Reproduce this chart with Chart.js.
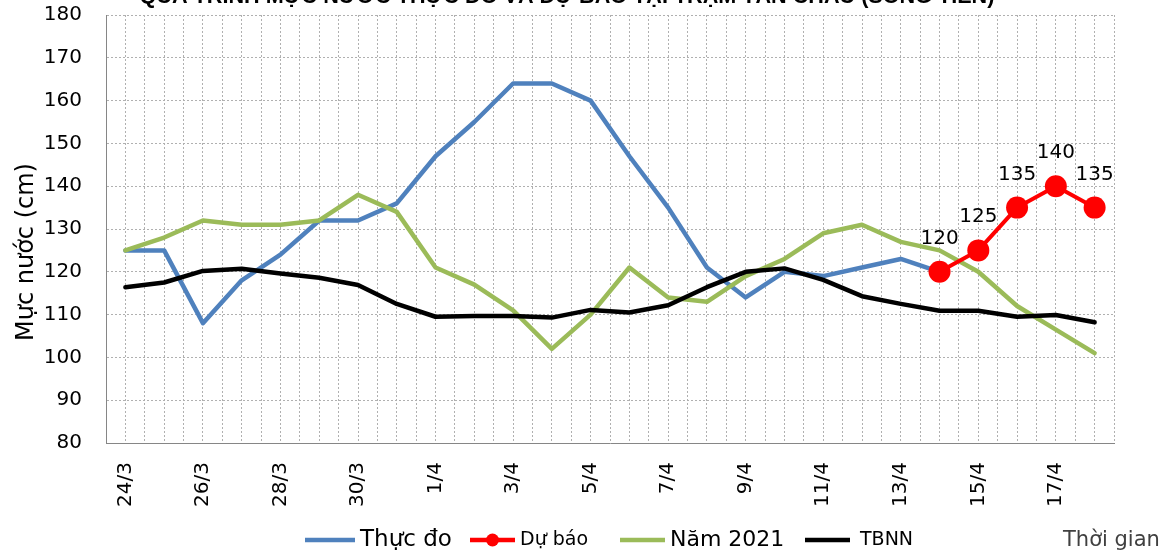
<!DOCTYPE html>
<html>
<head>
<meta charset="utf-8">
<script src="https://cdn.jsdelivr.net/npm/chart.js@4"></script>
<style>
  html, body { margin: 0; padding: 0; background: #ffffff; }
  #wrap { width: 1174px; height: 559px; position: relative; }
</style>
</head>
<body>
<div id="wrap"><canvas id="c"></canvas></div>
<script>
const chartTitle = 'QUÁ TRÌNH MỰC NƯỚC THỰC ĐO VÀ DỰ BÁO TẠI TRẠM TÂN CHÂU (SÔNG TIỀN)';
const yTitle = 'Mực nước (cm)';
const xTitle = 'Thời gian';
const categories = ['24/3','25/3','26/3','27/3','28/3','29/3','30/3','31/3',
  '1/4','2/4','3/4','4/4','5/4','6/4','7/4','8/4','9/4','10/4','11/4','12/4',
  '13/4','14/4','15/4','16/4','17/4','18/4'];
const seriesNames = ['Thực đo', 'Dự báo', 'Năm 2021', 'TBNN'];
const thucDo = [125,125,108,118,124,132,132,136,147,155,164,164,160,147,135,121,114,120,119,121,123,120,null,null,null,null];
const duBao = [null,null,null,null,null,null,null,null,null,null,null,null,null,null,null,null,null,null,null,null,null,120,125,135,140,135];
const nam2021 = [125,128,132,131,131,132,138,134,121,117,111,102,110,121,114,113,119,123,129,131,127,125,120,112,106.5,101];
const tbnn = [116.4,117.5,120.2,120.7,119.6,118.6,116.9,112.5,109.5,109.7,109.7,109.3,111.1,110.5,112.2,116.4,120,120.8,118.1,114.3,112.5,110.9,110.9,109.5,109.9,108.2];
const yTicks = [80,90,100,110,120,130,140,150,160,170,180];

const toPts = arr => arr.map((v, i) => ({ x: i, y: v }));

const colors = ['#4F81BD', '#FF0000', '#9BBB59', '#000000'];
const FONT = '"DejaVu Sans", sans-serif';

const decor = {
  id: 'decor',
  afterDatasetsDraw(chart) {
    const ctx = chart.ctx;
    const meta = chart.getDatasetMeta(1);
    ctx.save();
    ctx.font = '20px ' + FONT;
    ctx.fillStyle = '#000';
    ctx.textAlign = 'center';
    ctx.textBaseline = 'alphabetic';
    meta.data.forEach((el, i) => {
      const v = duBao[i];
      if (v === null || v === undefined) return;
      ctx.fillText(String(v), el.x, el.y - 28);
    });
    ctx.restore();
  },
  afterDraw(chart) {
    const ctx = chart.ctx;
    ctx.save();
    ctx.font = 'bold 20px "Liberation Sans", sans-serif';
    const w = ctx.measureText(chartTitle).width;
    const size = 20 * 855 / w;
    ctx.font = 'bold ' + size.toFixed(2) + 'px "Liberation Sans", sans-serif';
    ctx.fillStyle = '#000';
    ctx.textAlign = 'center';
    ctx.textBaseline = 'alphabetic';
    ctx.fillText(chartTitle, 567, 3);

    ctx.save();
    ctx.translate(33, 252);
    ctx.rotate(-Math.PI / 2);
    ctx.font = '24px ' + FONT;
    ctx.textAlign = 'center';
    ctx.textBaseline = 'alphabetic';
    ctx.fillStyle = '#000';
    ctx.fillText(yTitle, 0, 0);
    ctx.restore();

    const items = [
      { x0: 305, x1: 355, tx: 360, size: 23, marker: false },
      { x0: 470, x1: 515, tx: 520, size: 19, marker: true },
      { x0: 620, x1: 665, tx: 670, size: 22, marker: false },
      { x0: 805, x1: 850, tx: 860, size: 19, marker: false }
    ];
    const ly = 540;
    items.forEach((it, i) => {
      const ds = chart.data.datasets[i];
      ctx.strokeStyle = ds.borderColor;
      ctx.lineWidth = 4.5;
      ctx.lineCap = 'butt';
      ctx.beginPath();
      ctx.moveTo(it.x0, ly);
      ctx.lineTo(it.x1, ly);
      ctx.stroke();
      if (it.marker) {
        ctx.fillStyle = ds.borderColor;
        ctx.beginPath();
        ctx.arc((it.x0 + it.x1) / 2, ly, 6.5, 0, Math.PI * 2);
        ctx.fill();
      }
      ctx.fillStyle = '#000';
      ctx.font = it.size + 'px ' + FONT;
      ctx.textAlign = 'left';
      ctx.textBaseline = 'middle';
      ctx.fillText(ds.label, it.tx, ly);
    });

    ctx.font = '21px ' + FONT;
    ctx.fillStyle = '#404040';
    ctx.textAlign = 'left';
    ctx.textBaseline = 'middle';
    ctx.fillText(xTitle, 1063, 541);
    ctx.restore();
  }
};

const lineBase = {
  fill: false,
  tension: 0,
  pointRadius: 0,
  pointHoverRadius: 0,
  borderWidth: 4.5,
  spanGaps: false,
  borderCapStyle: 'round',
  borderJoinStyle: 'round'
};

new Chart(document.getElementById('c'), {
  type: 'line',
  data: {
    datasets: [
      Object.assign({}, lineBase, { label: seriesNames[0], data: toPts(thucDo), borderColor: colors[0], backgroundColor: colors[0], order: 4 }),
      Object.assign({}, lineBase, { label: seriesNames[1], data: toPts(duBao), borderColor: colors[1], backgroundColor: colors[1], borderWidth: 4, pointRadius: 11, pointBorderWidth: 0, pointBackgroundColor: colors[1], order: 1 }),
      Object.assign({}, lineBase, { label: seriesNames[2], data: toPts(nam2021), borderColor: colors[2], backgroundColor: colors[2], order: 3 }),
      Object.assign({}, lineBase, { label: seriesNames[3], data: toPts(tbnn), borderColor: colors[3], backgroundColor: colors[3], order: 2 })
    ]
  },
  options: {
    responsive: true,
    maintainAspectRatio: false,
    animation: false,
    events: [],
    layout: { padding: { left: 0, right: 60, top: 15, bottom: 0 } },
    plugins: {
      legend: { display: false },
      tooltip: { enabled: false },
      title: { display: false }
    },
    scales: {
      x: {
        type: 'linear',
        min: -0.5,
        max: categories.length - 0.5,
        afterFit(scale) {
          scale.height = 116;
          scale.paddingLeft = 0; scale.paddingRight = 0;
          scale.paddingTop = 0; scale.paddingBottom = 0;
        },
        afterBuildTicks(scale) {
          const t = [];
          for (let k = 0; k <= categories.length * 2; k++) t.push({ value: -0.5 + k * 0.5 });
          scale.ticks = t;
        },
        ticks: {
          stepSize: 0.5,
          autoSkip: false,
          minRotation: 90,
          maxRotation: 90,
          padding: 19,
          color: '#000',
          font: { family: 'DejaVu Sans', size: 20 },
          callback(value) {
            if (Number.isInteger(value) && value % 2 === 0) return categories[value];
            return '';
          }
        },
        grid: { color: '#b0b0b0', lineWidth: 1, drawTicks: false },
        border: { display: true, color: '#868686', width: 1, dash: [2, 2] }
      },
      y: {
        type: 'linear',
        min: yTicks[0],
        max: yTicks[yTicks.length - 1],
        afterFit(scale) {
          scale.width = 106;
          scale.paddingLeft = 0; scale.paddingRight = 0;
          scale.paddingTop = 0; scale.paddingBottom = 0;
        },
        afterBuildTicks(scale) { scale.ticks = yTicks.map(v => ({ value: v })); },
        ticks: {
          stepSize: 10,
          padding: 24,
          color: '#000',
          font: { family: 'DejaVu Sans', size: 20 }
        },
        grid: { color: '#b0b0b0', lineWidth: 1, drawTicks: false },
        border: { display: true, color: '#868686', width: 1, dash: [2, 2] }
      }
    }
  },
  plugins: [decor]
});
</script>
</body>
</html>
